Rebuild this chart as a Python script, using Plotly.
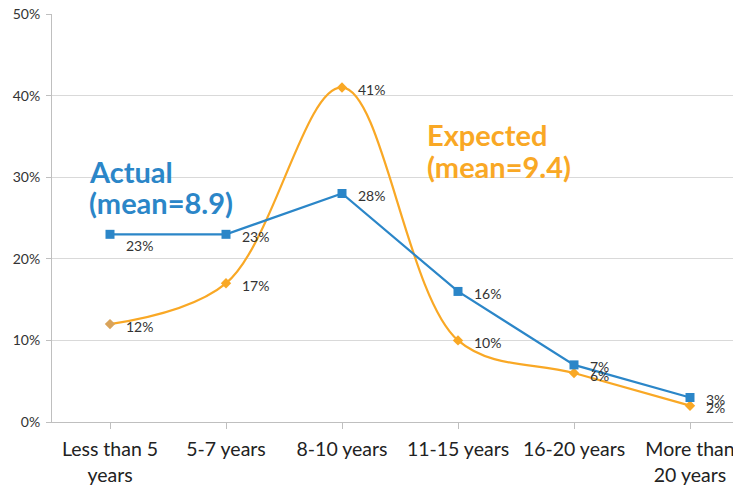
import plotly.graph_objects as go

categories = ["Less than 5<br>years", "5-7 years", "8-10 years", "11-15 years", "16-20 years", "More than<br>20 years"]
actual = [23, 23, 28, 16, 7, 3]
expected = [12, 17, 41, 10, 6, 2]
y_ticks = [0, 10, 20, 30, 40, 50]
y_tick_labels = ["0%", "10%", "20%", "30%", "40%", "50%"]

BLUE = "#2B86C8"
ORANGE = "#F9A825"
xs = list(range(len(categories)))

OFF = 8  # page body margin
L, T, PH, PW = 52, 14, 408, 689  # plot-area left, top, height, width in window px


def py(p):
    return (T + PH - p) / PH


def px(p):
    return (p - L) / PW


fig = go.Figure()
fig.add_trace(go.Scatter(
    x=xs, y=expected, mode="lines+markers",
    line=dict(color=ORANGE, width=2.2, shape="spline", smoothing=1.0),
    marker=dict(symbol="diamond", size=8,
                color=["#D9A35A"] + [ORANGE] * (len(expected) - 1),
                line=dict(width=0)),
    hoverinfo="skip", showlegend=False))
fig.add_trace(go.Scatter(
    x=xs, y=actual, mode="lines+markers",
    line=dict(color=BLUE, width=2.2),
    marker=dict(symbol="square", size=9, color=BLUE),
    hoverinfo="skip", showlegend=False))

label_font = dict(family="Lato", size=14, color="#333333")
annotations = []
for i, v in enumerate(actual):
    annotations.append(dict(x=i, y=v, text=f"{v}%", showarrow=False,
                            xanchor="left", yanchor="middle",
                            xshift=14, yshift=-11 if i == 0 else -2,
                            font=label_font))
for i, v in enumerate(expected):
    annotations.append(dict(x=i, y=v, text=f"{v}%", showarrow=False,
                            xanchor="left", yanchor="middle",
                            xshift=14, yshift=-2,
                            font=label_font))

big_blue = dict(family="Lato", size=29, color=BLUE, weight="bold")
big_orange = dict(family="Lato", size=29, color=ORANGE, weight="bold")
for text, x0, y0, f in [("Actual", 87, 171, big_blue), ("(mean=8.9)", 87, 202, big_blue),
                        ("Expected", 425, 135, big_orange), ("(mean=9.4)", 425, 166, big_orange)]:
    annotations.append(dict(xref="paper", yref="paper", x=px(x0), y=py(y0), text=text,
                            showarrow=False, xanchor="left", yanchor="middle", font=f))

fig.update_layout(
    width=741 - OFF, height=487 - OFF,
    margin=dict(l=L - OFF, r=0, t=T - OFF, b=487 - (T + PH)),
    paper_bgcolor="white", plot_bgcolor="white",
    annotations=annotations,
    xaxis=dict(range=[-0.5, -0.5 + PW / 116], tickvals=xs, ticktext=categories,
               automargin=False, ticklabelstandoff=4, ticklabeloverflow="allow",
               showgrid=False, zeroline=False, showline=True, linecolor="#BFBFBF",
               ticks="outside", tickson="boundaries", ticklen=6, tickcolor="#BFBFBF",
               tickfont=dict(family="Lato", size=19.5, color="#222222")),
    yaxis=dict(range=[0, 50], tickvals=y_ticks, ticktext=y_tick_labels,
               automargin=False, ticklabeloverflow="allow", ticklabelstandoff=3,
               showgrid=True, gridcolor="#D9D9D9", gridwidth=1, zeroline=False,
               showline=True, linecolor="#BFBFBF", ticks="outside", ticklen=5,
               tickcolor="#BFBFBF",
               tickfont=dict(family="Lato", size=14, color="#333333")),
)

fig.write_html("out.html")
